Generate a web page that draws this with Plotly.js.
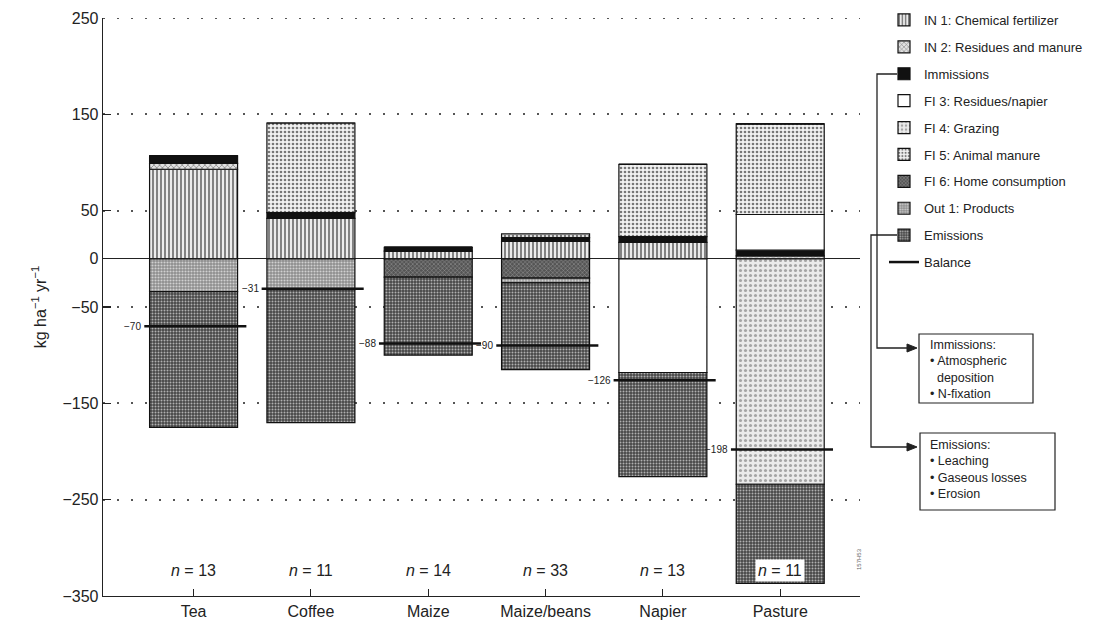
<!DOCTYPE html>
<html>
<head>
<meta charset="utf-8">
<script src="https://cdn.plot.ly/plotly-3.0.1.min.js"></script>
<style>html,body{margin:0;padding:0;background:#fff;}#chart{width:1117px;height:624px;}</style>
</head>
<body>
<div id="chart"></div>
<script>
// ---- data ----
const categories = ["Tea", "Coffee", "Maize", "Maize/beans", "Napier", "Pasture"];
const sampleSizes = [13, 11, 14, 33, 13, 11];
const in1Fertilizer   = [93, 42, 8, 18, 17, 0];
const in2Residues     = [6, 0, 0, 0, 0, 3];
const immissions      = [8, 6, 4, 4, 6, 6];
const fi3Residues     = [0, 0, 0, 0, -118, 37];
const fi4Grazing      = [0, 0, 0, 0, 0, -234];
const fi5Manure       = [0, 93, 0, 4, 75, 94];
const fi6Home         = [0, 0, -19, -20, 0, 0];
const out1Products    = [-34, -32, 0, -5, 0, 0];
const emissions       = [-141, -138, -81, -90, -108, -103];
const balance         = [-70, -31, -88, -90, -126, -198];
const yTicks = [250, 150, 50, 0, -50, -150, -250, -350];

// ---- geometry helpers ----
const W = 1117, H = 624;
const M = {l: 103, r: 257, t: 18, b: 28, autoexpand: false};
const PW = W - M.l - M.r, PH = H - M.t - M.b;
const px = x => (x - M.l) / PW;
const py = y => (H - M.b - y) / PH;
const idx = categories.map((_, i) => i);
const FONT = "Liberation Sans, Arial, Helvetica, sans-serif";

function barTrace(name, vals, pattern, color) {
  const m = {line: {color: "#111", width: 1.2}};
  if (pattern) {
    m.pattern = Object.assign({fillmode: "replace"}, pattern);
    m.color = pattern.bgcolor;
  } else {
    m.color = color;
  }
  return {
    type: "bar", name: name, x: idx, y: vals, width: 0.75,
    marker: m, legendgroup: name, hoverinfo: "skip"
  };
}

const traces = [
  barTrace("IN 1: Chemical fertilizer", in1Fertilizer, {shape: "|", bgcolor: "#ececec", fgcolor: "#555", size: 4, solidity: 0.35}),
  barTrace("IN 2: Residues and manure", in2Residues, {shape: "x", bgcolor: "#e2e2e2", fgcolor: "#777", size: 4, solidity: 0.3}),
  barTrace("Immissions", immissions, null, "#111"),
  barTrace("FI 3: Residues/napier", fi3Residues, null, "#ffffff"),
  barTrace("FI 4: Grazing", fi4Grazing, {shape: ".", bgcolor: "#ebebeb", fgcolor: "#a5a5a5", size: 5, solidity: 0.3}),
  barTrace("FI 5: Animal manure", fi5Manure, {shape: ".", bgcolor: "#f2f2f2", fgcolor: "#777", size: 4, solidity: 0.35}),
  barTrace("FI 6: Home consumption", fi6Home, {shape: "x", bgcolor: "#555", fgcolor: "#9a9a9a", size: 3, solidity: 0.3}),
  barTrace("Out 1: Products", out1Products, {shape: ".", bgcolor: "#8e8e8e", fgcolor: "#d0d0d0", size: 3, solidity: 0.4}),
  barTrace("Emissions", emissions, {shape: ".", bgcolor: "#474747", fgcolor: "#b0b0b0", size: 3, solidity: 0.35})
];

// balance segments
const bx = [], by = [];
balance.forEach((b, i) => { bx.push(i - 0.42, i + 0.45, null); by.push(b, b, null); });
traces.push({
  type: "scatter", mode: "lines", name: "Balance", legendgroup: "Balance",
  x: bx, y: by, line: {color: "#111", width: 2.5}, hoverinfo: "skip"
});

const annotations = [];
// balance labels
balance.forEach((b, i) => {
  annotations.push({
    x: i - 0.42, y: b, xref: "x", yref: "y", xanchor: "right", yanchor: "middle",
    text: "\u2212" + Math.abs(b), showarrow: false, xshift: -1,
    font: {family: FONT, size: 10, color: "#222"}
  });
});
// n labels
sampleSizes.forEach((n, i) => {
  annotations.push({
    x: i, y: -324, xref: "x", yref: "y", showarrow: false,
    text: "<i>n</i> = " + n,
    bgcolor: i === categories.length - 1 ? "#fff" : "rgba(0,0,0,0)",
    borderpad: 2,
    font: {family: FONT, size: 16, color: "#222"}
  });
});
// box texts
annotations.push({xref: "paper", yref: "paper", x: px(928), y: py(336), xanchor: "left", yanchor: "top",
  align: "left", showarrow: false,
  text: "Immissions:<br>\u2022 Atmospheric<br>\u00a0\u00a0deposition<br>\u2022 N-fixation",
  font: {family: FONT, size: 12.5, color: "#222"}});
annotations.push({xref: "paper", yref: "paper", x: px(928), y: py(436), xanchor: "left", yanchor: "top",
  align: "left", showarrow: false,
  text: "Emissions:<br>\u2022 Leaching<br>\u2022 Gaseous losses<br>\u2022 Erosion",
  font: {family: FONT, size: 12.5, color: "#222"}});
// small figure code
annotations.push({xref: "paper", yref: "paper", x: px(864), y: py(572), showarrow: false,
  text: "157H53", textangle: -90, font: {family: FONT, size: 6, color: "#666"}});

function arrowHead(xTip, yTip) {
  return {type: "path", xref: "paper", yref: "paper",
    path: `M ${px(xTip)},${py(yTip)} L ${px(xTip - 10)},${py(yTip - 4)} L ${px(xTip - 10)},${py(yTip + 4)} Z`,
    fillcolor: "#222", line: {color: "#222", width: 1}};
}

const shapes = [
  // top dotted grid line at 250
  {type: "line", xref: "paper", yref: "y", x0: 0, x1: 1, y0: 250, y1: 250,
   line: {color: "#555", width: 2, dash: "2px,12px"}},
  // immissions connector
  {type: "path", xref: "paper", yref: "paper",
   path: `M ${px(897)},${py(74)} L ${px(877)},${py(74)} L ${px(877)},${py(348)} L ${px(908)},${py(348)}`,
   line: {color: "#222", width: 1.3}},
  arrowHead(917, 348),
  // emissions connector
  {type: "path", xref: "paper", yref: "paper",
   path: `M ${px(897)},${py(235)} L ${px(871)},${py(235)} L ${px(871)},${py(447)} L ${px(908)},${py(447)}`,
   line: {color: "#222", width: 1.3}},
  arrowHead(917, 447),
  // boxes
  {type: "rect", xref: "paper", yref: "paper", x0: px(919), x1: px(1033), y0: py(334), y1: py(403),
   line: {color: "#222", width: 1.2}},
  {type: "rect", xref: "paper", yref: "paper", x0: px(920), x1: px(1055), y0: py(433), y1: py(510),
   line: {color: "#222", width: 1.2}}
];

const layout = {
  width: W, height: H,
  margin: M,
  paper_bgcolor: "#fff", plot_bgcolor: "#fff",
  barmode: "relative",
  font: {family: FONT, color: "#222"},
  showlegend: true,
  legend: {
    x: px(884), y: py(5), xanchor: "left", yanchor: "top",
    traceorder: "grouped", tracegroupgap: 7,
    font: {family: FONT, size: 13, color: "#222"},
    bgcolor: "rgba(0,0,0,0)", itemclick: false
  },
  xaxis: {
    range: [-0.772, 5.68],
    tickvals: idx, ticktext: categories,
    ticks: "inside", ticklen: 7, tickcolor: "#222", tickwidth: 1,
    showline: true, linecolor: "#222", linewidth: 1.3,
    showgrid: false, zeroline: false,
    tickfont: {family: FONT, size: 16, color: "#222"},
    fixedrange: true
  },
  yaxis: {
    range: [-350, 250],
    tickvals: yTicks,
    ticks: "inside", ticklen: 8, tickcolor: "#222", tickwidth: 1.3,
    showline: true, linecolor: "#222", linewidth: 1.3,
    showgrid: true, gridcolor: "#555", gridwidth: 2, griddash: "2px,12px",
    zeroline: true, zerolinecolor: "#222", zerolinewidth: 1.3,
    tickfont: {family: FONT, size: 16, color: "#222"},
    title: {text: "kg ha<sup>\u22121</sup> yr<sup>\u22121</sup>", font: {family: FONT, size: 16, color: "#222"}, standoff: 12},
    fixedrange: true
  },
  annotations: annotations,
  shapes: shapes
};

Plotly.newPlot("chart", traces, layout, {displayModeBar: false, staticPlot: true});
</script>
</body>
</html>
